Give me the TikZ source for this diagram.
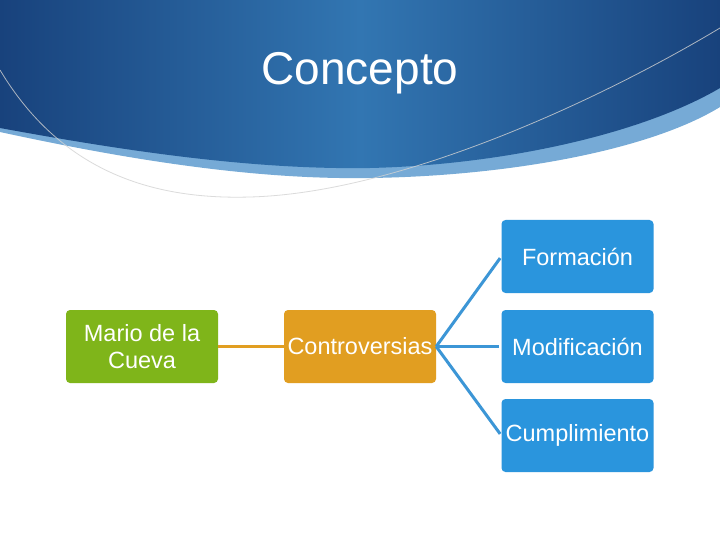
\documentclass[tikz,border=0pt]{standalone}
\usepackage{fontspec}
\setmainfont{Liberation Sans}
\begin{document}
\begin{tikzpicture}[x=1pt,y=-1pt,
  box/.style={rectangle,rounded corners=4pt,minimum width=152pt,minimum height=73pt,inner sep=1pt,text=white,align=center,font=\fontsize{23.5}{27}\selectfont},
  link/.style={line width=3pt},
]
\definecolor{bgreen}{RGB}{127,181,26}
\definecolor{borange}{RGB}{225,158,33}
\definecolor{bblue}{RGB}{42,149,221}
\definecolor{lblue}{RGB}{60,150,214}
\definecolor{bandblue}{RGB}{118,170,214}
\definecolor{darkedge}{RGB}{24,66,124}
\definecolor{midblue}{RGB}{50,118,178}
\useasboundingbox (0,0) rectangle (720,540);
\fill[white] (0,0) rectangle (720,540);
% light band under banner
\fill[bandblue] (0,0) -- (0,132) .. controls (120,158) and (250,180) .. (370,178)
   .. controls (510,176) and (650,150) .. (720,107) -- (720,0) -- cycle;
% dark banner
\shade[left color=darkedge,right color=darkedge,middle color=midblue]
  (0,0) -- (0,128) .. controls (120,150) and (250,170) .. (370,168)
   .. controls (500,165) and (640,135) .. (720,88) -- (720,0) -- cycle;
% thin grey curve
\draw[gray!35,line width=0.8pt,opacity=0.8] (0,70) .. controls (60,170) and (150,200) .. (250,197)
   .. controls (400,193) and (600,100) .. (720,28);
\node[text=white,font=\fontsize{46}{50}\selectfont] (title) at (360,73) {Concepto};
% boxes
\node[box,fill=bgreen] (mario) at (142,346.5) {Mario de la\\Cueva};
\node[box,fill=borange] (contro) at (360,346.5) {Controversias};
\node[box,fill=bblue] (form) at (577.5,256.5) {Formación};
\node[box,fill=bblue] (modi) at (577.5,346.5) {Modificación};
\node[box,fill=bblue] (cump) at (577.5,435.5) {Cumplimiento};
% connectors
\draw[link,borange] (mario.east) -- (contro.west);
\draw[link,lblue,shorten >=2pt] (contro.east) -- (form.west);
\draw[link,lblue,shorten >=2pt] (contro.east) -- (modi.west);
\draw[link,lblue,shorten >=2pt] (contro.east) -- (cump.west);
\end{tikzpicture}
\end{document}
